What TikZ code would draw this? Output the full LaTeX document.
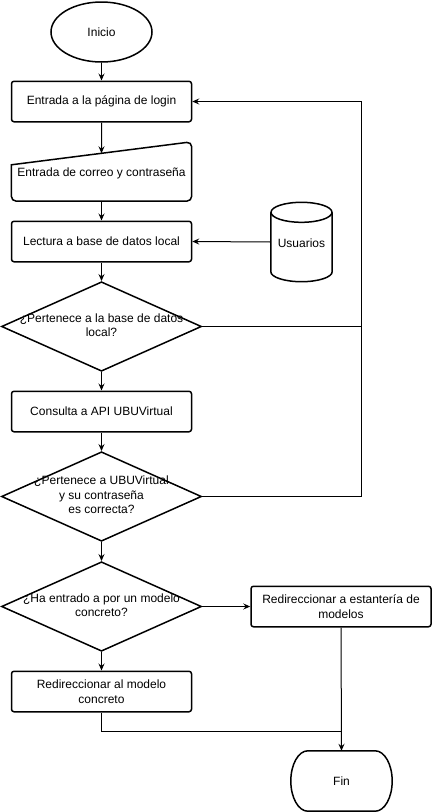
\documentclass[tikz,border=0pt]{standalone}
\usepackage{fontspec}
\setmainfont{Liberation Sans}
\usetikzlibrary{arrows.meta,shapes.geometric,calc}
\begin{document}
\begin{tikzpicture}[x=1pt,y=-1pt,
  font=\fontsize{12}{14.5}\selectfont,
  shp/.style={draw,line width=1.5pt},
  box/.style={shp,rectangle,rounded corners=2.5pt,minimum width=180pt,minimum height=40.5pt,align=center,inner sep=0pt},
  dec/.style={shp,diamond,minimum width=200pt,minimum height=89.5pt,inner sep=0pt},
  holder/.style={rectangle,inner sep=0pt,align=center},
  conn/.style={line width=1pt},
  arr/.style={conn,-{Stealth[length=7pt,width=6pt,inset=2.5pt]}}
]
\useasboundingbox (0,0) rectangle (432,812);

% nodes
\node[shp,ellipse,minimum width=101pt,minimum height=60pt,inner sep=0pt] (inicio) at (101.5,32) {Inicio};
\node[box] (b1) at (101.5,101.5) {Entrada a la página de login};

\node[holder,minimum width=180pt,minimum height=59pt] (inp) at (101.5,171.5) {};
\node[holder] (inptext) at (101.5,173.5) {Entrada de correo y contraseña};
\coordinate (inptl) at ($(inp.north west)+(0,23)$);
\coordinate (inptop) at ($(inptl)!0.5!(inp.north east)$);
\draw[shp] (inptl) [rounded corners=5pt] -- (inp.north east) -- (inp.south east) -- (inp.south west) [sharp corners] -- cycle;

\node[box] (b3) at (101.5,241.5) {Lectura a base de datos local};

% cylinder Usuarios
\node[holder,minimum width=61pt,minimum height=79pt] (usr) at (301.5,242) {};
\node[holder] (usrtext) at (301.5,243.5) {Usuarios};
\draw[shp] ($(usr.north)+(0,10)$) ellipse[x radius=30.5pt,y radius=10pt];
\draw[shp] ($(usr.north west)+(0,10)$) -- ($(usr.south west)+(0,-10)$)
   .. controls +(0,5.52) and +(-16.85,0) .. (usr.south)
   .. controls +(16.85,0) and +(0,5.52) .. ($(usr.south east)+(0,-10)$)
   -- ($(usr.north east)+(0,10)$);

\node[dec] (d1) at (101.5,326.5) {\makebox[0pt]{\begin{tabular}{@{}c@{}}¿Pertenece a la base de datos\\local?\end{tabular}}};
\node[box] (api) at (101.5,411.5) {Consulta a API UBUVirtual};
\node[dec] (d2) at (101.5,496.5) {\makebox[0pt]{\begin{tabular}{@{}c@{}}¿Pertenece a UBUVirtual\\y su contraseña\\es correcta?\end{tabular}}};
\node[dec] (d3) at (101.5,606.5) {\makebox[0pt]{\begin{tabular}{@{}c@{}}¿Ha entrado a por un modelo\\concreto?\end{tabular}}};
\node[box] (est) at (341,606.5) {Redireccionar a estantería de\\modelos};
\node[box] (redir) at (101.5,691.5) {Redireccionar al modelo\\concreto};

% terminator Fin
\node[holder,minimum width=101pt,minimum height=60pt] (fin) at (341.5,781) {Fin};
\draw[shp] ($(fin.north west)+(17,0)$) -- ($(fin.north east)+(-17,0)$)
  .. controls +(9.39,0) and +(0,-16.57) .. (fin.east)
  .. controls +(0,16.57) and +(9.39,0) .. ($(fin.south east)+(-17,0)$)
  -- ($(fin.south west)+(17,0)$)
  .. controls +(-9.39,0) and +(0,16.57) .. (fin.west)
  .. controls +(0,-16.57) and +(-9.39,0) .. ($(fin.north west)+(17,0)$) -- cycle;

% connectors
\coordinate (rx) at (361.5,0);
\coordinate (join) at (341.5,731);
\draw[arr] (inicio) -- (b1);
\draw[arr] (b1) -- (inptop);
\draw[arr] (inp.south) -- (b3);
\draw[arr] (usr.west) -- (b3.east);
\draw[arr] (b3) -- (d1);
\draw[arr] (d1.east) -- (d1.east -| rx) |- (b1.east);
\draw[conn] (d2.east) -- (d2.east -| rx) -- (d1.east -| rx);
\draw[arr] (d1) -- (api);
\draw[arr] (api) -- (d2);
\draw[arr] (d2) -- (d3);
\draw[arr] (d3.east) -- (est.west);
\draw[arr] (d3) -- (redir);
\draw[conn] (redir.south) |- (join);
\draw[arr] (est.south) -- (fin.north);
\end{tikzpicture}
\end{document}
